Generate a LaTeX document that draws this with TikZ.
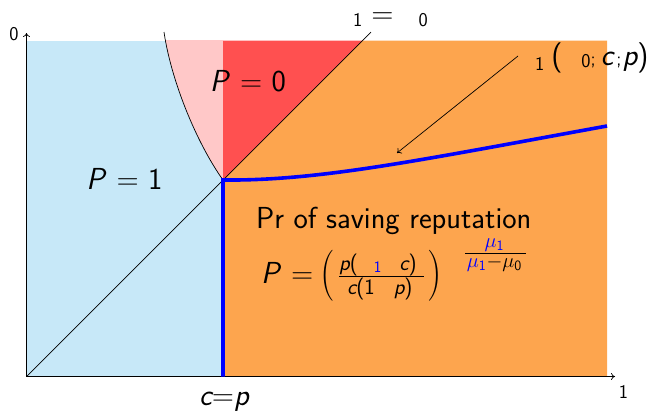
\documentclass[tikz,border=0pt]{standalone}
\usepackage{fix-cm}
\usepackage{fontspec}
\usetikzlibrary{arrows.meta}
\definecolor{lblue}{RGB}{199,232,248}
\definecolor{pinkc}{RGB}{255,200,200}
\definecolor{redc}{RGB}{255,80,80}
\definecolor{orangec}{RGB}{253,165,78}
\newcommand{\mainsz}{\fontsize{30.4}{36}\selectfont}
\newcommand{\subsz}{\fontsize{19.5}{22}\selectfont}
\newcommand{\fracsz}{\fontsize{22}{26}\selectfont}
\newcommand{\tinysz}{\fontsize{16}{18}\selectfont}
\newcommand{\expsz}{\fontsize{17}{20}\selectfont}
\begin{document}
\begin{tikzpicture}[x=1pt,y=-1pt,
  lbl/.style={inner sep=0pt,font=\mainsz\sffamily},
  sublbl/.style={inner sep=0pt,font=\subsz\sffamily},
  thinline/.style={line width=0.7pt,black},
  axisline/.style={line width=0.7pt,black,-{To[length=4pt,width=7pt]}},
  blueline/.style={line width=3.6pt,blue,line join=miter},
  pointer/.style={line width=0.7pt,black,-{To[length=4pt,width=7pt]}},
  bigparen/.style={inner sep=0pt,font=\fontsize{30.4}{36}\selectfont\rmfamily},
  expo/.style={inner sep=0pt,font=\expsz}]
\useasboundingbox (0,0) rectangle (665,413);
% key points
\coordinate (O) at (26.5,376.5);
\coordinate (K) at (223,180);
\coordinate (Kb) at (223,376.5);
\coordinate (D) at (363,40.5);
\coordinate (Dend) at (371,32);
\coordinate (TL) at (26.5,40.5);
\coordinate (TM) at (223,40.5);
\coordinate (TR) at (607,40.5);
\coordinate (BR) at (607,376.5);
\coordinate (Ctop) at (164,32);
\coordinate (Bend) at (607,126);
\coordinate (Ytip) at (26.5,33);
\coordinate (Xtip) at (615,376.5);
\coordinate (Pstart) at (518,56);
\coordinate (Pend) at (397,153);
% regions
\fill[lblue] (TL) rectangle (Kb);
\begin{scope}
  \clip (TL) rectangle (BR);
  \fill[pinkc] (K) .. controls (196,142) and (171,80) .. (Ctop) -- (223,32) -- cycle;
\end{scope}
\fill[redc] (K) -- (D) -- (TM) -- cycle;
\fill[orangec] (K) -- (D) -- (TR) -- (BR) -- (Kb) -- cycle;
% lines
\draw[thinline] (O) -- (Dend);
\draw[thinline] (K) .. controls (196,142) and (171,80) .. (Ctop);
\draw[axisline] (O) -- (Ytip);
\draw[axisline] (O) -- (Xtip);
\draw[blueline] (Kb) -- (K) .. controls (320,181) and (420,160) .. (Bend);
\draw[pointer] (Pstart) -- (Pend);
% labels
\node[lbl] (p1) at (124.5,179) {\itshape P\/\upshape{} = 1};
\node[lbl] (p0) at (248,81) {\itshape P\/\upshape{} = 0};
\node[lbl,anchor=base west] (pr) at (256,228) {Pr of saving reputation};
\node[lbl,anchor=base] (cp) at (224,405) {\itshape c\upshape=\itshape p};
\node[sublbl] (ylab) at (14,34) {0};
\node[sublbl] (xlab) at (623.5,392) {1};
\node[lbl,anchor=base west] (diag) at (353,23)
  {\raisebox{-3.5pt}{\subsz 1}\hspace{9pt}=\hspace{25pt}\raisebox{-3.5pt}{\subsz 0}};
\node[lbl,anchor=base west] (mu) at (535,65)
  {\raisebox{-5pt}{\subsz 1}\hspace{7pt}(\hspace{19pt}\raisebox{-2pt}{\subsz 0}{\subsz;}\hspace{5pt}{\itshape c}\hspace{3pt}{\subsz;}\hspace{1pt}{\itshape p})};
% formula
\node[lbl,anchor=base west] (fP) at (261,283) {\itshape P\/\upshape{} =};
\node[bigparen] (lpar) at (328,275.5) {\scalebox{1.35}[1.68]{(}};
\node[bigparen] (rpar) at (434.5,275.5) {\scalebox{1.35}[1.68]{)}};
\coordinate (fb1) at (339,276);
\coordinate (fb2) at (424,276);
\draw[line width=0.8pt] (fb1) -- (fb2);
\node[inner sep=0pt,font=\fracsz\sffamily,anchor=base west] (num) at (339,270)
  {\itshape p\upshape(\hspace{16pt}\raisebox{-2pt}{\tinysz\color{blue}1}\hspace{18pt}\itshape c\upshape)};
\node[inner sep=0pt,font=\fracsz\sffamily,anchor=base west] (den) at (347,294)
  {\itshape c\upshape(1\hspace{19pt}\itshape p\upshape)};
\node[expo,anchor=base] (enum) at (494.5,247.5) {\scalebox{1.2}{\color{blue}$\mu_{\mathsf{1}}$}};
\coordinate (eb1) at (465,253);
\coordinate (eb2) at (526,253);
\draw[line width=0.6pt] (eb1) -- (eb2);
\node[expo,anchor=base] (eden) at (494.5,267) {\scalebox{1.2}{${\color{blue}\mu_{\mathsf{1}}}\mathord{-}\mu_{\mathsf{0}}$}};
\end{tikzpicture}
\end{document}
